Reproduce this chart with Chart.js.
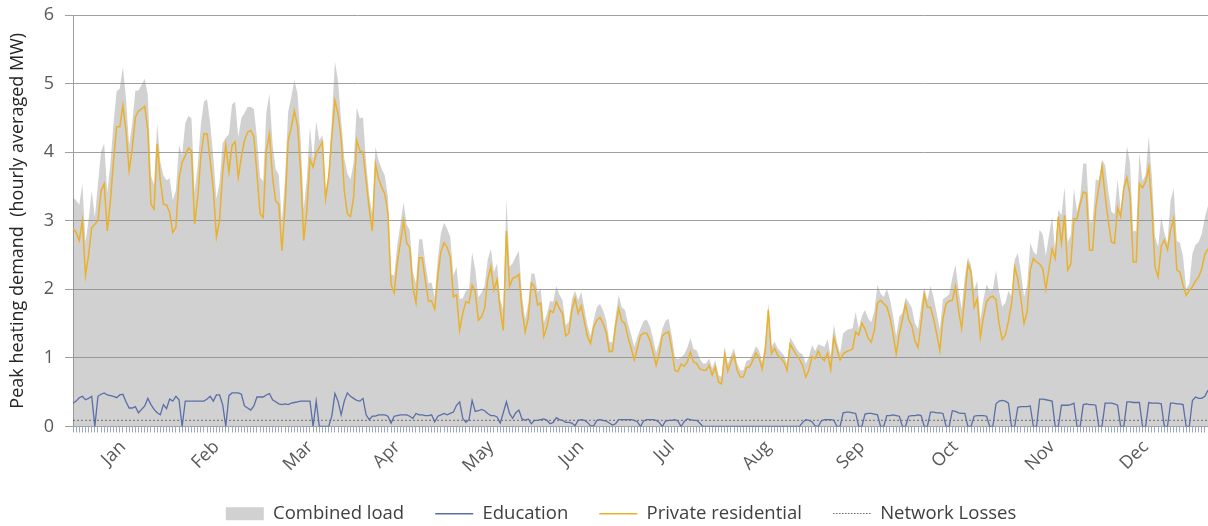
<!DOCTYPE html>
<html><head><meta charset="utf-8">
<script src="https://cdn.jsdelivr.net/npm/chart.js@4.4.1/dist/chart.umd.min.js"></script>
<style>html,body{margin:0;padding:0;background:#fff;}canvas{display:block;}</style>
</head><body>
<canvas id="c" width="1208" height="526"></canvas>
<script>
const monthNames = ['Jan','Feb','Mar','Apr','May','Jun','Jul','Aug','Sep','Oct','Nov','Dec'];
const monthTickIndex = [16, 46, 76, 104, 134, 163, 192, 223, 253, 283, 314, 344];

const combinedLoad = [
3.33,3.30,3.23,3.54,2.69,3.01,3.44,3.05,3.54,4.01,
4.13,3.41,3.84,4.42,4.89,4.93,5.25,4.78,4.10,4.42,
4.90,4.90,4.98,5.07,4.83,3.66,3.52,4.42,3.86,3.66,
3.59,3.62,3.30,3.44,4.10,3.95,4.42,4.53,4.49,3.42,
3.81,4.40,4.74,4.77,4.42,3.93,3.32,3.56,4.13,4.21,
4.26,4.69,4.74,4.22,4.50,4.57,4.66,4.66,4.63,4.21,
3.63,3.58,4.58,4.85,4.12,3.75,3.67,2.98,3.63,4.59,
4.80,5.05,4.85,4.20,3.18,3.62,4.37,3.88,4.45,4.17,
4.25,3.42,3.73,4.47,5.33,5.03,4.47,3.91,3.69,3.60,
3.85,4.65,4.49,4.51,3.86,3.37,3.10,4.08,3.88,3.76,
3.66,3.35,2.22,2.20,2.65,2.95,3.27,2.95,2.86,2.24,
2.09,2.73,2.73,2.38,2.09,2.10,1.88,2.45,2.82,2.97,
2.88,2.76,2.20,2.33,1.86,1.87,1.98,2.00,2.54,2.29,
1.88,1.95,2.05,2.43,2.59,2.25,2.38,1.85,1.70,3.31,
2.33,2.38,2.48,2.56,1.91,1.57,1.79,2.23,2.23,1.96,
2.00,1.52,1.64,1.83,1.82,2.05,1.92,1.84,1.48,1.52,
1.85,1.98,1.84,1.96,1.72,1.47,1.32,1.56,1.74,1.79,
1.69,1.55,1.24,1.22,1.60,1.92,1.74,1.70,1.50,1.34,
1.16,1.31,1.43,1.54,1.56,1.46,1.29,1.08,1.22,1.42,
1.54,1.57,1.33,1.02,0.98,1.01,1.05,1.15,1.29,1.13,
1.11,0.99,0.92,0.92,0.99,0.85,0.97,0.75,0.72,1.16,
0.91,1.04,1.14,0.92,0.82,0.82,0.96,0.97,1.06,1.17,
1.11,0.94,1.21,1.80,1.16,1.24,1.14,1.09,1.04,0.92,
1.30,1.22,1.14,1.08,1.05,0.92,1.01,1.19,1.10,1.20,
1.18,1.16,1.27,1.03,1.49,1.23,1.07,1.36,1.40,1.42,
1.43,1.67,1.43,1.61,1.70,1.58,1.52,1.68,2.07,1.94,
1.89,2.01,1.85,1.62,1.32,1.60,1.66,1.88,1.81,1.73,
1.51,1.42,1.76,2.03,1.84,2.05,1.88,1.65,1.41,1.86,
1.89,1.93,2.17,2.36,1.99,1.72,2.18,2.47,2.35,1.99,
2.12,1.56,1.86,2.07,1.98,2.00,2.28,1.97,1.75,1.80,
1.98,1.89,2.43,2.53,2.25,1.89,2.06,2.68,2.55,2.50,
2.87,2.80,2.49,2.78,3.06,2.55,3.16,3.08,3.49,2.69,
2.79,3.47,3.13,3.34,3.84,3.83,2.99,2.99,3.60,3.59,
3.89,3.81,3.45,3.13,3.10,3.60,3.16,3.57,4.09,3.83,
2.85,2.85,3.99,3.58,3.67,4.23,3.64,2.77,2.62,3.06,
2.82,2.68,3.30,3.47,2.71,2.68,2.48,2.01,2.08,2.52,
2.65,2.69,2.81,3.05,3.22
];

const education = [
0.34,0.37,0.42,0.44,0.39,0.41,0.44,0.00,0.44,0.47,
0.49,0.46,0.45,0.44,0.42,0.46,0.47,0.36,0.27,0.27,
0.29,0.20,0.25,0.30,0.41,0.32,0.25,0.20,0.17,0.32,
0.26,0.40,0.37,0.44,0.39,0.00,0.37,0.37,0.37,0.37,
0.37,0.37,0.37,0.40,0.44,0.37,0.46,0.46,0.32,0.00,
0.45,0.49,0.49,0.49,0.47,0.30,0.27,0.24,0.30,0.43,
0.43,0.43,0.46,0.48,0.39,0.36,0.33,0.32,0.33,0.32,
0.34,0.35,0.36,0.37,0.37,0.37,0.37,0.00,0.37,0.00,
0.00,0.00,0.00,0.15,0.48,0.37,0.17,0.37,0.49,0.44,
0.41,0.38,0.37,0.41,0.17,0.10,0.15,0.15,0.17,0.17,
0.17,0.15,0.05,0.15,0.16,0.17,0.17,0.17,0.15,0.12,
0.19,0.17,0.17,0.16,0.16,0.17,0.07,0.15,0.17,0.19,
0.17,0.19,0.21,0.31,0.36,0.12,0.06,0.10,0.38,0.22,
0.23,0.25,0.23,0.19,0.16,0.16,0.14,0.05,0.20,0.36,
0.19,0.12,0.20,0.24,0.11,0.09,0.11,0.04,0.09,0.09,
0.10,0.11,0.09,0.04,0.06,0.13,0.10,0.09,0.06,0.06,
0.05,0.01,0.09,0.10,0.09,0.06,0.01,0.01,0.09,0.10,
0.09,0.08,0.05,0.02,0.04,0.10,0.10,0.10,0.10,0.10,
0.09,0.07,0.00,0.08,0.10,0.10,0.10,0.09,0.06,0.00,
0.08,0.09,0.09,0.10,0.08,0.00,0.07,0.11,0.10,0.09,
0.09,0.05,0.00,0.00,0.00,0.00,0.00,0.00,0.00,0.00,
0.00,0.00,0.00,0.00,0.00,0.00,0.00,0.00,0.00,0.00,
0.00,0.00,0.00,0.00,0.00,0.00,0.00,0.00,0.00,0.00,
0.00,0.00,0.00,0.00,0.06,0.10,0.09,0.07,0.01,0.00,
0.08,0.10,0.10,0.10,0.09,0.00,0.00,0.20,0.21,0.21,
0.20,0.19,0.00,0.00,0.18,0.19,0.19,0.18,0.17,0.00,
0.00,0.16,0.16,0.17,0.16,0.15,0.00,0.00,0.15,0.16,
0.16,0.17,0.16,0.00,0.00,0.21,0.21,0.20,0.20,0.19,
0.00,0.00,0.23,0.22,0.20,0.19,0.19,0.00,0.00,0.15,
0.16,0.16,0.16,0.15,0.00,0.00,0.33,0.37,0.38,0.37,
0.34,0.00,0.00,0.28,0.29,0.29,0.29,0.30,0.00,0.00,
0.40,0.40,0.39,0.38,0.37,0.00,0.00,0.31,0.31,0.31,
0.32,0.34,0.00,0.00,0.32,0.33,0.32,0.32,0.31,0.00,
0.00,0.34,0.34,0.34,0.33,0.31,0.00,0.00,0.36,0.36,
0.35,0.35,0.35,0.00,0.00,0.35,0.34,0.34,0.34,0.33,
0.00,0.00,0.34,0.34,0.33,0.33,0.32,0.00,0.00,0.38,
0.43,0.41,0.41,0.44,0.53
];

const privateResidential = [
2.89,2.83,2.71,3.00,2.20,2.50,2.90,2.95,3.00,3.44,
3.54,2.85,3.29,3.88,4.37,4.37,4.68,4.32,3.73,4.05,
4.51,4.60,4.63,4.67,4.32,3.24,3.17,4.12,3.59,3.24,
3.23,3.12,2.83,2.90,3.61,3.85,3.95,4.06,4.02,2.95,
3.34,3.93,4.27,4.27,3.88,3.46,2.76,3.00,3.71,4.11,
3.71,4.10,4.15,3.63,3.93,4.17,4.29,4.32,4.23,3.68,
3.10,3.05,4.02,4.27,3.63,3.29,3.24,2.56,3.20,4.17,
4.36,4.60,4.39,3.73,2.71,3.15,3.90,3.78,3.98,4.07,
4.15,3.32,3.63,4.22,4.75,4.56,4.20,3.44,3.10,3.06,
3.34,4.17,4.02,4.00,3.59,3.17,2.85,3.83,3.61,3.49,
3.39,3.10,2.07,1.95,2.39,2.68,3.00,2.68,2.61,2.02,
1.80,2.46,2.46,2.12,1.83,1.83,1.71,2.20,2.55,2.68,
2.61,2.47,1.89,1.92,1.40,1.65,1.82,1.80,2.06,1.97,
1.55,1.60,1.72,2.14,2.33,1.99,2.14,1.70,1.40,2.85,
2.04,2.16,2.18,2.22,1.70,1.38,1.58,2.09,2.04,1.77,
1.80,1.31,1.45,1.69,1.66,1.82,1.72,1.65,1.32,1.36,
1.70,1.87,1.65,1.76,1.53,1.31,1.21,1.45,1.55,1.59,
1.50,1.37,1.09,1.10,1.46,1.72,1.54,1.50,1.30,1.14,
0.97,1.14,1.33,1.36,1.36,1.26,1.09,0.89,1.06,1.32,
1.36,1.38,1.14,0.82,0.80,0.91,0.88,0.94,1.09,0.94,
0.92,0.84,0.82,0.82,0.89,0.75,0.87,0.65,0.62,1.06,
0.81,0.94,1.04,0.82,0.72,0.72,0.86,0.87,0.96,1.07,
1.01,0.84,1.11,1.70,1.06,1.14,1.04,0.99,0.94,0.82,
1.20,1.12,1.04,0.98,0.89,0.72,0.82,1.02,0.99,1.10,
1.00,0.96,1.07,0.83,1.30,1.13,0.97,1.06,1.09,1.11,
1.13,1.38,1.33,1.51,1.42,1.29,1.23,1.40,1.80,1.84,
1.79,1.75,1.59,1.35,1.06,1.35,1.56,1.78,1.56,1.47,
1.25,1.15,1.50,1.93,1.74,1.74,1.57,1.35,1.11,1.57,
1.79,1.83,1.84,2.04,1.69,1.43,1.89,2.37,2.25,1.74,
1.86,1.30,1.60,1.82,1.88,1.90,1.85,1.50,1.27,1.33,
1.54,1.79,2.33,2.15,1.86,1.50,1.67,2.28,2.45,2.40,
2.37,2.30,2.00,2.30,2.59,2.45,3.06,2.67,3.08,2.28,
2.37,3.03,3.03,3.24,3.42,3.40,2.57,2.57,3.19,3.49,
3.79,3.37,3.01,2.69,2.67,3.19,3.06,3.47,3.63,3.37,
2.40,2.40,3.54,3.48,3.57,3.78,3.20,2.33,2.18,2.63,
2.72,2.58,2.86,3.03,2.28,2.25,2.06,1.91,1.98,2.04,
2.12,2.18,2.30,2.51,2.59
];

const networkLosses = [
0.09,0.09,0.09,0.09,0.09,0.09,0.09,0.09,0.09,0.09,0.09,0.09,0.09,0.09,0.09,0.09,0.09,0.09,0.09,0.09,
0.09,0.09,0.09,0.09,0.09,0.09,0.09,0.09,0.09,0.09,0.09,0.09,0.09,0.09,0.09,0.09,0.09,0.09,0.09,0.09,
0.09,0.09,0.09,0.09,0.09,0.09,0.09,0.09,0.09,0.09,0.09,0.09,0.09,0.09,0.09,0.09,0.09,0.09,0.09,0.09,
0.09,0.09,0.09,0.09,0.09,0.09,0.09,0.09,0.09,0.09,0.09,0.09,0.09,0.09,0.09,0.09,0.09,0.09,0.09,0.09,
0.09,0.09,0.09,0.09,0.09,0.09,0.09,0.09,0.09,0.09,0.09,0.09,0.09,0.09,0.09,0.09,0.09,0.09,0.09,0.09,
0.09,0.09,0.09,0.09,0.09,0.09,0.09,0.09,0.09,0.09,0.09,0.09,0.09,0.09,0.09,0.09,0.09,0.09,0.09,0.09,
0.09,0.09,0.09,0.09,0.09,0.09,0.09,0.09,0.09,0.09,0.09,0.09,0.09,0.09,0.09,0.09,0.09,0.09,0.09,0.09,
0.09,0.09,0.09,0.09,0.09,0.09,0.09,0.09,0.09,0.09,0.09,0.09,0.09,0.09,0.09,0.09,0.09,0.09,0.09,0.09,
0.09,0.09,0.09,0.09,0.09,0.09,0.09,0.09,0.09,0.09,0.09,0.09,0.09,0.09,0.09,0.09,0.09,0.09,0.09,0.09,
0.09,0.09,0.09,0.09,0.09,0.09,0.09,0.09,0.09,0.09,0.09,0.09,0.09,0.09,0.09,0.09,0.09,0.09,0.09,0.09,
0.09,0.09,0.09,0.09,0.09,0.09,0.09,0.09,0.09,0.09,0.09,0.09,0.09,0.09,0.09,0.09,0.09,0.09,0.09,0.09,
0.09,0.09,0.09,0.09,0.09,0.09,0.09,0.09,0.09,0.09,0.09,0.09,0.09,0.09,0.09,0.09,0.09,0.09,0.09,0.09,
0.09,0.09,0.09,0.09,0.09,0.09,0.09,0.09,0.09,0.09,0.09,0.09,0.09,0.09,0.09,0.09,0.09,0.09,0.09,0.09,
0.09,0.09,0.09,0.09,0.09,0.09,0.09,0.09,0.09,0.09,0.09,0.09,0.09,0.09,0.09,0.09,0.09,0.09,0.09,0.09,
0.09,0.09,0.09,0.09,0.09,0.09,0.09,0.09,0.09,0.09,0.09,0.09,0.09,0.09,0.09,0.09,0.09,0.09,0.09,0.09,
0.09,0.09,0.09,0.09,0.09,0.09,0.09,0.09,0.09,0.09,0.09,0.09,0.09,0.09,0.09,0.09,0.09,0.09,0.09,0.09,
0.09,0.09,0.09,0.09,0.09,0.09,0.09,0.09,0.09,0.09,0.09,0.09,0.09,0.09,0.09,0.09,0.09,0.09,0.09,0.09,
0.09,0.09,0.09,0.09,0.09,0.09,0.09,0.09,0.09,0.09,0.09,0.09,0.09,0.09,0.09,0.09,0.09,0.09,0.09,0.09,
0.09,0.09,0.09,0.09,0.09
];

const dayLabels = privateResidential.map((_, i) => 'Day ' + (i + 1));

Chart.defaults.font.family = "'Open Sans', sans-serif";

// dotted legend swatch for Network Losses
const dotSwatch = document.createElement('canvas');
dotSwatch.width = 38; dotSwatch.height = 1;
(function () {
  const g = dotSwatch.getContext('2d');
  g.fillStyle = '#6b6b6b';
  for (let x = 0; x < 38; x += 3) g.fillRect(x, 0, 1.6, 1);
})();

const legendShift = {
  id: 'legendShift',
  afterLayout(chart) {
    if (chart.legend) { chart.legend.left += 17; chart.legend.right += 17; }
  }
};

new Chart(document.getElementById('c'), {
  type: 'line',
  data: {
    labels: dayLabels,
    datasets: [
      { label: 'Combined load', data: combinedLoad, fill: 'origin',
        backgroundColor: 'rgba(140,140,140,0.4)', borderColor: 'rgba(0,0,0,0)', borderWidth: 0,
        pointRadius: 0, pointStyle: 'rect', tension: 0, order: 4 },
      { label: 'Education', data: education, fill: false, borderColor: '#5a6ea8', backgroundColor: '#5a6ea8',
        borderWidth: 1.3, pointRadius: 0, pointStyle: 'line', tension: 0, order: 1 },
      { label: 'Private residential', data: privateResidential, fill: false, borderColor: '#eab12c', backgroundColor: '#eab12c',
        borderWidth: 1.5, pointRadius: 0, pointStyle: 'line', tension: 0, order: 2 },
      { label: 'Network Losses', data: networkLosses, fill: false, borderColor: '#6b6b6b', backgroundColor: '#6b6b6b',
        borderWidth: 1, borderDash: [2, 2], pointRadius: 0, pointStyle: dotSwatch, tension: 0, order: 3 }
    ]
  },
  options: {
    responsive: false, animation: false, devicePixelRatio: 1,
    layout: { padding: { top: 15, left: 0, right: 0, bottom: -7 } },
    plugins: {
      tooltip: { enabled: false },
      legend: {
        position: 'bottom',
        labels: {
          usePointStyle: true, pointStyleWidth: 38, boxHeight: 13, padding: 31,
          font: { size: 18.5 }, color: '#404040',
          sort: (a, b) => a.datasetIndex - b.datasetIndex
        }
      }
    },
    scales: {
      x: {
        grid: { drawOnChartArea: false, drawTicks: true, tickLength: 6, color: '#9aa6c4' },
        border: { color: '#a6a6a6' },
        ticks: {
          autoSkip: false, maxRotation: 45, minRotation: 45, padding: 4,
          font: { size: 18 }, color: '#595959',
          callback: (v, i) => { const k = monthTickIndex.indexOf(i); return k >= 0 ? monthNames[k] : ''; }
        },
        afterFit: (s) => { s.height = 47; s.paddingRight = 0; s.paddingLeft = 0; }
      },
      y: {
        min: 0, max: 6,
        ticks: { stepSize: 1, padding: 11, font: { size: 18 }, color: '#595959' },
        grid: { color: '#a0a0a0', tickLength: 8 },
        border: { color: '#a0a0a0' },
        title: { display: true, text: 'Peak heating demand  (hourly averaged MW)',
          font: { size: 18 }, color: '#262626', padding: { top: 7, bottom: 0 } },
        afterFit: (s) => { s.width = 73; s.paddingTop = 0; s.paddingBottom = 0; }
      }
    }
  },
  plugins: [legendShift]
});
</script>
</body></html>
